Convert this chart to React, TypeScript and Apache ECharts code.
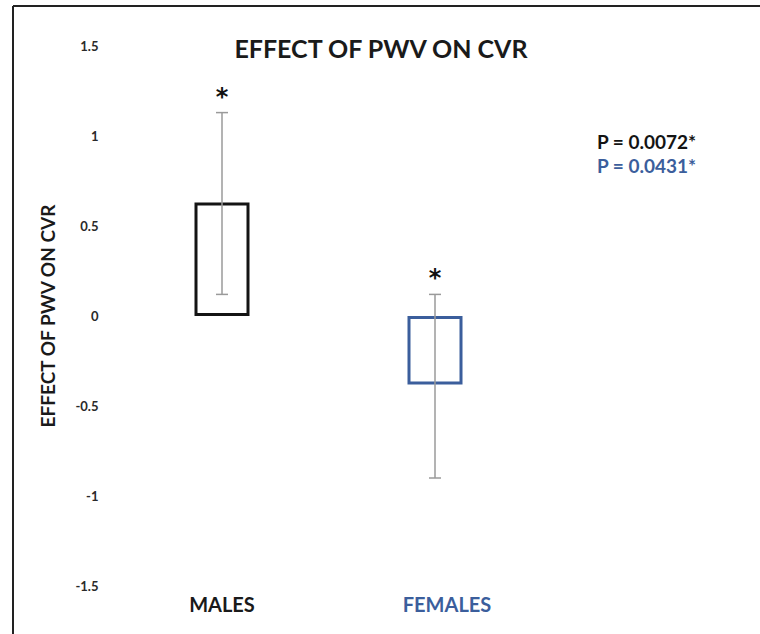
import React, { useEffect, useRef } from "react";
import * as echarts from "echarts";

const categories = ["MALES", "FEMALES"];
const means = [0.63, -0.38];
const upper = [1.13, 0.12];
const lower = [0.12, -0.9];
const barColors = ["#141414", "#3b5e9c"];
const yTicks = { min: -1.5, max: 1.5, interval: 0.5 };
const pValues = ["P = 0.0072*", "P = 0.0431*"];
const titleText = "EFFECT OF PWV ON CVR";
const yName = "EFFECT OF PWV ON CVR";

const FONT = "Lato, 'Open Sans', sans-serif";

export default function App() {
  const ref = useRef<HTMLDivElement>(null);
  useEffect(() => {
    if (!ref.current) return;
    const chart = echarts.init(ref.current, undefined, { renderer: "svg" });
    const errData = categories.map((_, i) => [i, lower[i], upper[i]]);
    chart.setOption({
      animation: false,
      backgroundColor: "#ffffff",
      title: {
        text: titleText,
        left: 376,
        top: 30,
        textAlign: "center",
        textStyle: { fontFamily: FONT, fontWeight: "bold", fontSize: 25, color: "#1a1a1a" },
      },
      grid: { left: 115.5, right: 218.5, top: 46, bottom: 48 },
      xAxis: {
        type: "category",
        data: categories,
        axisLine: { show: false },
        axisTick: { show: false },
        splitLine: { show: false },
        axisLabel: {
          margin: 8,
          formatter: (v: string, i: number) => (i === 0 ? `{m|${v}}` : `{f|${v}}`),
          rich: {
            m: { fontFamily: FONT, fontWeight: "bold", fontSize: 20, color: "#1a1a1a" },
            f: { fontFamily: FONT, fontWeight: "bold", fontSize: 20, color: "#3b5e9c", padding: [0, 0, 0, 24] },
          },
        },
      },
      yAxis: {
        type: "value",
        min: yTicks.min,
        max: yTicks.max,
        interval: yTicks.interval,
        name: yName,
        nameLocation: "middle",
        nameRotate: 90,
        nameGap: 59,
        nameTextStyle: { fontFamily: FONT, fontWeight: "bold", fontSize: 19, color: "#1a1a1a" },
        axisLine: { show: false },
        axisTick: { show: false },
        splitLine: { show: false },
        axisLabel: { margin: 17, fontFamily: FONT, fontWeight: "bold", fontSize: 13, color: "#2a2a2a" },
      },
      series: [
        {
          type: "bar",
          barWidth: 55,
          data: means.map((v, i) => ({
            value: v,
            itemStyle: { color: "#ffffff", borderColor: barColors[i], borderWidth: 3 },
          })),
          z: 2,
        },
        {
          type: "custom",
          z: 3,
          data: errData,
          renderItem: (params: any, api: any) => {
            const x = api.value(0);
            const lo = api.coord([x, api.value(1)]);
            const hi = api.coord([x, api.value(2)]);
            const cap = 6;
            const st = { stroke: "#9a9a9a", lineWidth: 1.5 };
            return {
              type: "group",
              children: [
                { type: "line", shape: { x1: hi[0], y1: hi[1], x2: lo[0], y2: lo[1] }, style: st },
                { type: "line", shape: { x1: hi[0] - cap, y1: hi[1], x2: hi[0] + cap, y2: hi[1] }, style: st },
                { type: "line", shape: { x1: lo[0] - cap, y1: lo[1], x2: lo[0] + cap, y2: lo[1] }, style: st },
                {
                  type: "text",
                  x: hi[0],
                  y: hi[1] - 16,
                  style: {
                    text: "*",
                    fontFamily: "DejaVu Sans, sans-serif",
                    fontWeight: "bold",
                    fontSize: 24,
                    fill: "#111111",
                    align: "center",
                    verticalAlign: "middle",
                  },
                },
              ],
            };
          },
        },
      ],
      graphic: [
        { type: "line", shape: { x1: 13, y1: 6, x2: 760, y2: 6 }, style: { stroke: "#222222", lineWidth: 2 } },
        { type: "line", shape: { x1: 13, y1: 6, x2: 13, y2: 634 }, style: { stroke: "#222222", lineWidth: 2 } },
        {
          type: "text",
          x: 597,
          y: 141,
          style: { text: pValues[0], fontFamily: FONT, fontWeight: "bold", fontSize: 19, fill: "#141414", verticalAlign: "middle" },
        },
        {
          type: "text",
          x: 597,
          y: 165,
          style: { text: pValues[1], fontFamily: FONT, fontWeight: "bold", fontSize: 19, fill: "#3b5e9c", verticalAlign: "middle" },
        },
      ],
    });
    return () => chart.dispose();
  }, []);
  return (
    <div
      ref={ref}
      style={{ position: "absolute", left: 0, top: 0, width: 760, height: 634, background: "#fff" }}
    />
  );
}
